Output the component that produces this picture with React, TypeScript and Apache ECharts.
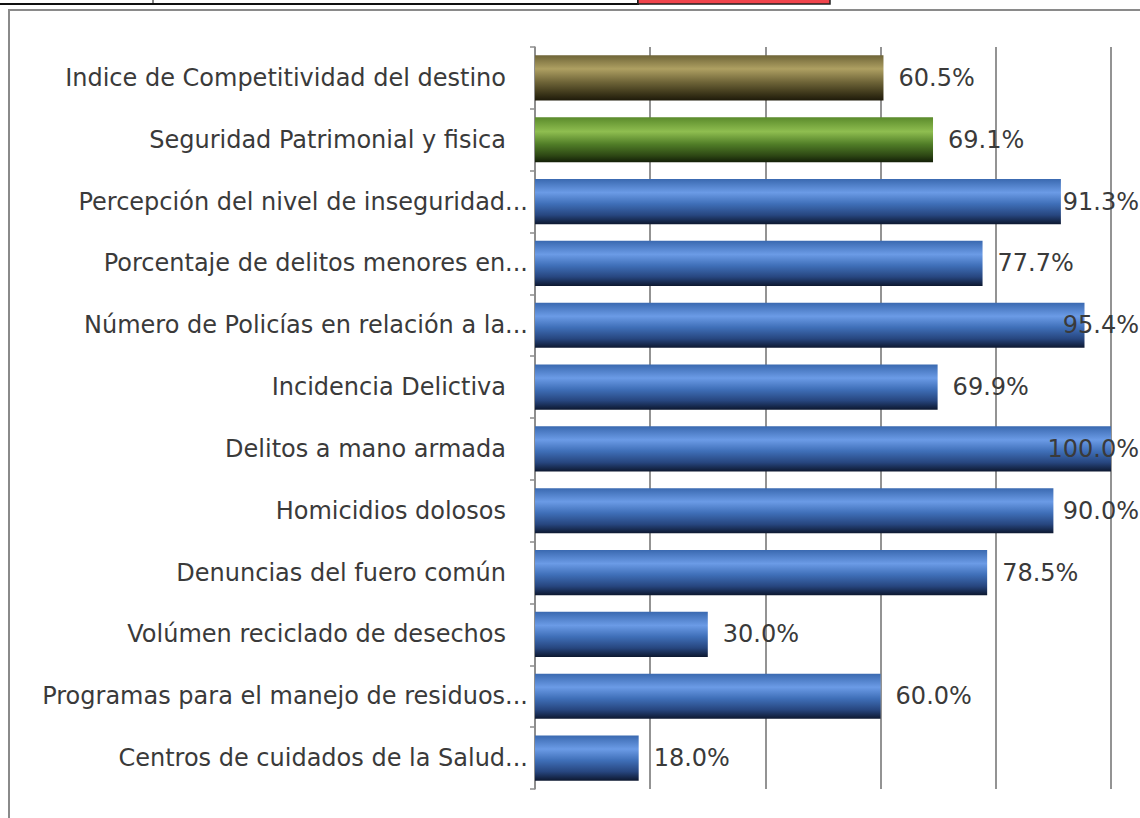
import React, { useEffect, useRef } from "react";
import * as echarts from "echarts";

const categories = [
  "Indice de Competitividad del destino",
  "Seguridad Patrimonial y fisica",
  "Percepción del nivel de inseguridad...",
  "Porcentaje de delitos menores en...",
  "Número de Policías en relación a la...",
  "Incidencia Delictiva",
  "Delitos a mano armada",
  "Homicidios dolosos",
  "Denuncias del fuero común",
  "Volúmen reciclado de desechos",
  "Programas para el manejo de residuos...",
  "Centros de cuidados de la Salud...",
];
const values = [60.5, 69.1, 91.3, 77.7, 95.4, 69.9, 100.0, 90.0, 78.5, 30.0, 60.0, 18.0];
const colorGroups = ["olive", "green", "blue", "blue", "blue", "blue", "blue", "blue", "blue", "blue", "blue", "blue"];

const grad = (stops: [number, string][]) =>
  new echarts.graphic.LinearGradient(0, 0, 0, 1, stops.map(([offset, color]) => ({ offset, color })));

const palettes: Record<string, [number, string][]> = {
  blue: [
    [0, "#3a69b0"],
    [0.3, "#6b9be6"],
    [0.55, "#3f6fb8"],
    [0.8, "#27467f"],
    [1, "#0d1830"],
  ],
  olive: [
    [0, "#6f6538"],
    [0.3, "#aea062"],
    [0.6, "#6d6337"],
    [0.85, "#3b3519"],
    [1, "#1e1a0a"],
  ],
  green: [
    [0, "#5a8a2b"],
    [0.32, "#8fbe50"],
    [0.6, "#507d27"],
    [0.85, "#2d4714"],
    [1, "#131e07"],
  ],
};

export default function App() {
  const ref = useRef<HTMLDivElement>(null);
  useEffect(() => {
    document.body.style.margin = "0";
    const chart = echarts.init(ref.current!, undefined, { renderer: "svg" });
    const font = "DejaVu Sans";
    const fs = 24;
    chart.setOption({
      animation: false,
      backgroundColor: "#ffffff",
      graphic: [
        {
          type: "rect",
          shape: { x: 9, y: 10, width: 1200, height: 900 },
          style: { fill: "none", stroke: "#8a8a8a", lineWidth: 2 },
          silent: true,
          z: -1,
        },
        {
          type: "rect",
          shape: { x: -2, y: -10, width: 640, height: 14 },
          style: { fill: "#ffffff", stroke: "#111111", lineWidth: 2 },
          silent: true,
        },
        {
          type: "rect",
          shape: { x: 638, y: -10, width: 192, height: 14 },
          style: { fill: "#f0444c", stroke: "#222222", lineWidth: 1.5 },
          silent: true,
        },
        {
          type: "line",
          shape: { x1: 153, y1: 0, x2: 153, y2: 4 },
          style: { stroke: "#111111", lineWidth: 1 },
          silent: true,
        },
      ],
      grid: { left: 535, right: 29, top: 47, bottom: 29, containLabel: false },
      xAxis: {
        type: "value",
        min: 0,
        max: 100,
        interval: 20,
        axisLabel: { show: false },
        axisLine: { show: false },
        axisTick: { show: false },
        splitLine: { show: true, lineStyle: { color: "#939393", width: 2 } },
      },
      yAxis: {
        type: "category",
        inverse: true,
        data: categories,
        axisLine: { show: true, lineStyle: { color: "#8c8c8c", width: 1.5 } },
        axisTick: { show: true, length: 5, lineStyle: { color: "#8c8c8c", width: 1.5 } },
        axisLabel: {
          margin: 7,
          formatter: (v: string) => (v.endsWith("...") ? `{a|${v}}` : `{b|${v}}`),
          rich: {
            a: { fontFamily: font, fontSize: fs, color: "#3a3a3a" },
            b: { fontFamily: font, fontSize: fs, color: "#3a3a3a", padding: [0, 22, 0, 0] },
          },
        },
      },
      series: [
        {
          type: "bar",
          barWidth: "73%",
          data: values.map((v, i) => ({
            value: v,
            itemStyle: { color: grad(palettes[colorGroups[i]]) },
          })),
          label: {
            show: true,
            position: "right",
            distance: 15,
            fontFamily: font,
            fontSize: fs,
            color: "#3a3a3a",
            formatter: (p: any) => `${Number(p.value).toFixed(1)}%`,
          },
          labelLayout: (p: any) => {
            const r = p.labelRect;
            const maxRight = 1139;
            if (r.x + r.width > maxRight) {
              return {
                x: maxRight - r.width,
                y: r.y + r.height / 2,
                align: "left",
                verticalAlign: "middle",
              };
            }
            return {};
          },
        },
      ],
    });
    return () => chart.dispose();
  }, []);
  return <div ref={ref} style={{ width: 1140, height: 818 }} />;
}
